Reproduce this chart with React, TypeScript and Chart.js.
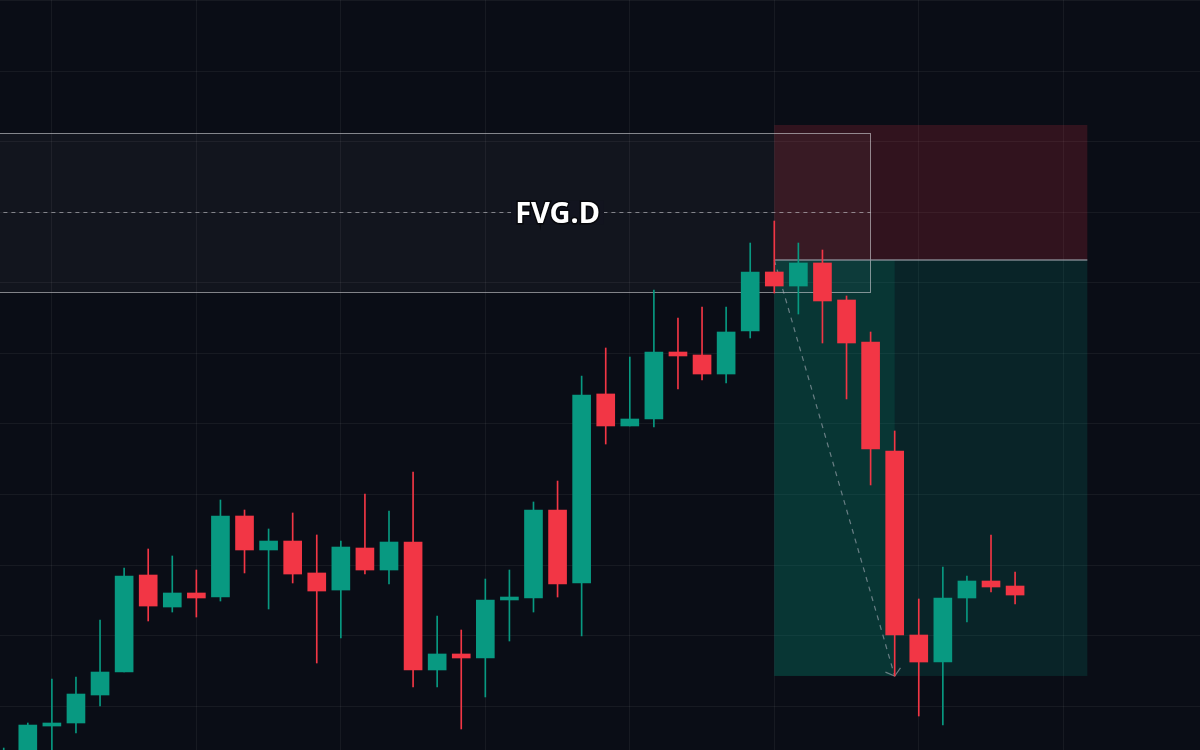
import { useEffect, useRef } from "react";
import { Chart, registerables } from "chart.js";

Chart.register(...registerables);

// ---- data ----
const candleIndex = [-1, 0, 1, 2, 3, 4, 5, 6, 7, 8, 9, 10, 11, 12, 13, 14, 15, 16, 17, 18, 19, 20, 21, 22, 23, 24, 25, 26, 27, 28, 29, 30, 31, 32, 33, 34, 35, 36, 37, 38, 39, 40, 41];
const opens = [88.6, 90.92, 97.16, 97.59, 101.56, 104.82, 118.58, 114.04, 116.03, 115.46, 126.95, 122.13, 123.4, 118.87, 116.45, 122.41, 119.29, 123.26, 105.11, 107.38, 106.81, 115.04, 115.32, 127.8, 117.45, 144.26, 139.72, 140.71, 150.21, 149.79, 147.09, 153.19, 161.56, 159.57, 162.84, 157.59, 151.63, 136.17, 110.07, 106.24, 115.32, 117.73, 117.02];
const closes = [92.6, 97.3, 97.59, 101.7, 104.82, 118.44, 114.18, 116.03, 115.32, 126.95, 122.13, 123.4, 118.72, 116.31, 122.55, 119.29, 123.26, 105.11, 107.38, 106.81, 115.04, 115.46, 127.8, 117.3, 144.11, 139.72, 140.71, 150.21, 149.65, 147.09, 153.05, 161.56, 159.57, 162.84, 157.45, 151.49, 136.45, 110.07, 106.24, 115.32, 117.73, 116.88, 115.74];
const highs = [94.04, 97.59, 103.83, 104.11, 112.2, 119.57, 122.27, 121.28, 119.29, 129.22, 127.8, 125.11, 127.38, 124.26, 123.4, 130.07, 127.66, 133.19, 112.77, 110.78, 118.01, 119.29, 128.94, 131.91, 146.81, 150.78, 149.5, 159.01, 155.04, 156.6, 156.6, 165.67, 168.79, 165.67, 164.68, 158.16, 153.05, 139.01, 115.18, 119.72, 118.44, 124.26, 119.01];
const lows = [86.0, 89.5, 92.34, 96.17, 100.0, 104.82, 112.06, 113.33, 112.62, 114.89, 118.87, 113.76, 117.45, 106.1, 109.65, 118.72, 117.3, 102.7, 102.7, 96.74, 101.28, 109.22, 113.33, 115.46, 109.93, 137.16, 139.72, 139.57, 144.96, 146.24, 145.82, 152.2, 158.58, 155.6, 151.49, 143.55, 131.35, 104.26, 98.58, 97.3, 111.91, 116.17, 114.47];

const priceTicks = [100, 110, 120, 130, 140, 150, 160, 170, 180, 190, 200];
const timeTicks = [1, 7, 13, 19, 25, 31, 37, 43];

// FVG.D zone: [fromIndex, toIndex, top, bottom]
const fvgZone = [-5, 35, 181.28, 158.72];
const fvgMid = 170;
const fvgLabel = "FVG.D";
const fvgLabelAt = 22;

// Short position: [fromIndex, toIndex], entry / stop / target, progress index
const positionSpan = [31, 44];
const positionEntry = 163.26;
const positionStop = 182.41;
const positionTarget = 104.26;
const positionProgress = 36;

// projected move (dashed arrow): [index, price] start -> end
const moveFrom = [31, 163.26];
const moveTo = [36, 104.26];

const UP = "#089981";
const DOWN = "#f23645";
const BG = "#0a0d16";

const annotationPlugin = {
  id: "tvAnnotations",
  beforeDatasetsDraw(chart: any) {
    const ctx = chart.ctx as CanvasRenderingContext2D;
    const xs = chart.scales.x;
    const ys = chart.scales.y;
    const X = (v: number) => xs.getPixelForValue(v);
    const Y = (v: number) => ys.getPixelForValue(v);
    ctx.save();

    // FVG zone
    const fx0 = X(fvgZone[0]);
    const fx1 = X(fvgZone[1]);
    const fy0 = Y(fvgZone[2]);
    const fy1 = Y(fvgZone[3]);
    ctx.fillStyle = "rgba(255,255,255,0.035)";
    ctx.fillRect(fx0, fy0, fx1 - fx0, fy1 - fy0);

    // position zones
    const px0 = X(positionSpan[0]);
    const px1 = X(positionSpan[1]);
    const pp = X(positionProgress);
    const yEntry = Y(positionEntry);
    const yStop = Y(positionStop);
    const yTarget = Y(positionTarget);
    ctx.fillStyle = "rgba(242,54,69,0.17)";
    ctx.fillRect(px0, yStop, px1 - px0, yEntry - yStop);
    ctx.fillStyle = "rgba(8,153,129,0.17)";
    ctx.fillRect(px0, yEntry, px1 - px0, yTarget - yEntry);
    ctx.fillStyle = "rgba(8,153,129,0.15)";
    ctx.fillRect(px0, yEntry, pp - px0, yTarget - yEntry);

    // FVG border
    ctx.strokeStyle = "rgba(210,210,215,0.6)";
    ctx.lineWidth = 1;
    ctx.strokeRect(Math.round(fx0) + 0.5, Math.round(fy0) + 0.5, Math.round(fx1 - fx0), Math.round(fy1 - fy0));

    // FVG midline
    const ym = Math.round(Y(fvgMid)) + 0.5;
    ctx.setLineDash([4, 4]);
    ctx.strokeStyle = "rgba(200,200,205,0.6)";
    ctx.beginPath();
    ctx.moveTo(fx0, ym);
    ctx.lineTo(fx1, ym);
    ctx.stroke();
    ctx.setLineDash([]);

    // entry line
    ctx.strokeStyle = "rgba(150,155,165,0.8)";
    ctx.lineWidth = 1.5;
    ctx.beginPath();
    ctx.moveTo(px0, yEntry);
    ctx.lineTo(px1, yEntry);
    ctx.stroke();

    // FVG label
    ctx.font = "bold 29px 'Noto Sans', 'Open Sans', sans-serif";
    ctx.textAlign = "center";
    ctx.textBaseline = "alphabetic";
    const lx = X(fvgLabelAt);
    const tw = ctx.measureText(fvgLabel).width;
    ctx.fillStyle = "#12141f";
    ctx.fillRect(lx - tw / 2 - 4, ym - 12, tw + 8, 24);
    ctx.lineWidth = 3;
    ctx.strokeStyle = "rgba(0,0,0,0.6)";
    ctx.strokeText(fvgLabel, lx, ym + 10);
    ctx.fillStyle = "#ffffff";
    ctx.fillText(fvgLabel, lx, ym + 10);

    // dashed projected move
    const ax0 = X(moveFrom[0]);
    const ay0 = Y(moveFrom[1]);
    const ax1 = X(moveTo[0]);
    const ay1 = Y(moveTo[1]);
    ctx.strokeStyle = "rgba(170,175,185,0.6)";
    ctx.lineWidth = 1.2;
    ctx.setLineDash([5, 5]);
    ctx.beginPath();
    ctx.moveTo(ax0, ay0);
    ctx.lineTo(ax1, ay1);
    ctx.stroke();
    ctx.setLineDash([]);
    const ang = Math.atan2(ay1 - ay0, ax1 - ax0);
    const hl = 10;
    ctx.beginPath();
    ctx.moveTo(ax1 - hl * Math.cos(ang - 0.9), ay1 - hl * Math.sin(ang - 0.9));
    ctx.lineTo(ax1, ay1);
    ctx.lineTo(ax1 - hl * Math.cos(ang + 0.9), ay1 - hl * Math.sin(ang + 0.9));
    ctx.stroke();

    ctx.restore();
  },
};

export default function App() {
  const ref = useRef<HTMLCanvasElement | null>(null);

  useEffect(() => {
    document.body.style.margin = "0";
    document.body.style.background = BG;
    if (!ref.current) return;
    const colors = candleIndex.map((_, i) => (closes[i] >= opens[i] ? UP : DOWN));
    const chart = new Chart(ref.current, {
      type: "bar",
      data: {
        datasets: [
          {
            label: "body",
            data: candleIndex.map((x, i) => ({ x, y: [opens[i], closes[i]] })) as any,
            backgroundColor: colors,
            borderWidth: 0,
            barThickness: 18,
            minBarLength: 2,
            grouped: false,
            order: 0,
          },
          {
            label: "wick",
            data: candleIndex.map((x, i) => ({ x, y: [lows[i], highs[i]] })) as any,
            backgroundColor: colors,
            borderWidth: 0,
            barThickness: 1,
            grouped: false,
            order: 1,
          },
        ],
      },
      options: {
        animation: false,
        responsive: true,
        maintainAspectRatio: false,
        layout: { padding: 0 },
        plugins: { legend: { display: false }, tooltip: { enabled: false } },
        scales: {
          x: {
            type: "linear",
            offset: false,
            min: -1.1545,
            max: 48.679,
            grid: { color: "rgba(255,255,255,0.055)", drawTicks: false, offset: false },
            border: { display: false },
            ticks: { display: false },
            afterBuildTicks: (s: any) => {
              s.ticks = timeTicks.map((v) => ({ value: v }));
            },
          },
          y: {
            type: "linear",
            min: 93.76,
            max: 200.14,
            grid: { color: "rgba(255,255,255,0.055)", drawTicks: false },
            border: { display: false },
            ticks: { display: false },
            afterBuildTicks: (s: any) => {
              s.ticks = priceTicks.map((v) => ({ value: v }));
            },
          },
        },
      },
      plugins: [annotationPlugin],
    });
    return () => chart.destroy();
  }, []);

  return (
    <div style={{ position: "fixed", left: 0, top: 0, width: 1200, height: 750, background: BG }}>
      <canvas ref={ref} />
    </div>
  );
}
